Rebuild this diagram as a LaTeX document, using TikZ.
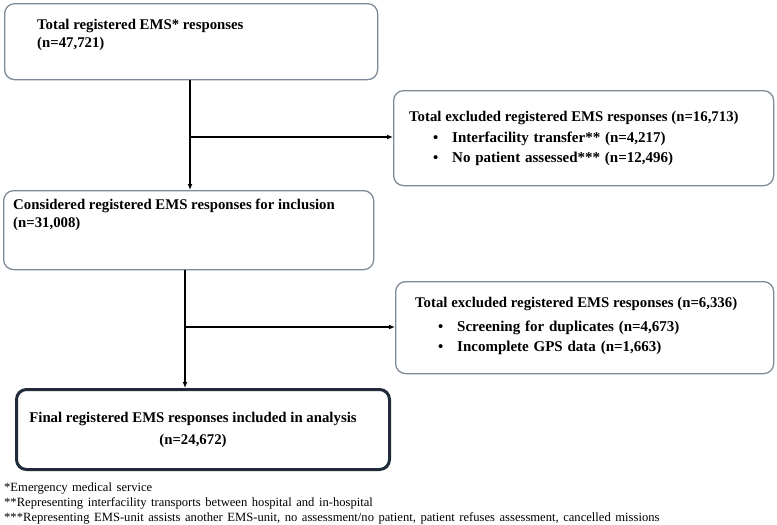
\documentclass[tikz,border=0pt]{standalone}
\usepackage{fontspec}
\setmainfont{Liberation Serif}
\usetikzlibrary{arrows.meta}
\definecolor{boxline}{HTML}{7D8A96}
\definecolor{finalline}{HTML}{1F2B38}
\newcommand\mywidesp{\spaceskip=0.32em plus 0.1em\relax}
\newcommand\mynotesp{\spaceskip=0.36em plus 0.1em\relax}
\begin{document}
\begin{tikzpicture}[x=1pt,y=-1pt,
 box/.style={draw=boxline, line width=1.3pt, rounded corners=10pt, anchor=north west, inner sep=0pt},
 finalbox/.style={draw=finalline, line width=3pt, rounded corners=10pt, anchor=north west, inner sep=0pt},
 txt/.style={font=\fontsize{14.8}{17}\selectfont\bfseries, anchor=base west, inner sep=0pt},
 bul/.style={font=\fontsize{15}{17}\selectfont\bfseries\mywidesp, anchor=base west, inner sep=0pt},
 ctxt/.style={font=\fontsize{14.8}{17}\selectfont\bfseries, anchor=base, inner sep=0pt},
 note/.style={font=\fontsize{12.6}{14}\selectfont\mynotesp, anchor=base west, inner sep=0pt},
 conn/.style={line width=1.3pt, -{Latex[length=6pt,width=5pt]}},
 ]
\useasboundingbox (0,0) rectangle (777,525);
% boxes
\node[box, minimum width=373pt, minimum height=76pt] (b1) at (4,3) {};
\node[box, minimum width=380pt, minimum height=95pt] (b2) at (393,90) {};
\node[box, minimum width=370pt, minimum height=79pt] (b3) at (3,190) {};
\node[box, minimum width=378pt, minimum height=92pt] (b4) at (395,281) {};
\node[finalbox, minimum width=373pt, minimum height=80pt] (b5) at (15,388) {};
% texts
\node[txt] (t1a) at (37,29) {Total registered EMS* responses};
\node[txt] (t1b) at (37,47) {(n=47,721)};
\node[txt] (t2a) at (409,121) {Total excluded registered EMS responses (n=16,713)};
\node[txt] (t2b) at (433,142) {\textbullet};
\node[bul] (t2c) at (452,142) {Interfacility transfer** (n=4,217)};
\node[txt] (t2d) at (433,162) {\textbullet};
\node[bul] (t2e) at (452,162) {No patient assessed*** (n=12,496)};
\node[txt] (t3a) at (13,209) {Considered registered EMS responses for inclusion};
\node[txt] (t3b) at (13,227) {(n=31,008)};
\node[txt] (t4a) at (415,307) {Total excluded registered EMS responses (n=6,336)};
\node[txt] (t4b) at (438,331) {\textbullet};
\node[bul] (t4c) at (457,331) {Screening for duplicates (n=4,673)};
\node[txt] (t4d) at (438,351) {\textbullet};
\node[bul] (t4e) at (457,351) {Incomplete GPS data (n=1,663)};
\node[ctxt] (t5a) at (193,422) {Final registered EMS responses included in analysis};
\node[ctxt] (t5b) at (193,444) {(n=24,672)};
% footnotes
\node[note] (f1) at (4,491) {*Emergency medical service};
\node[note] (f2) at (4,506) {**Representing interfacility transports between hospital and in-hospital};
\node[note] (f3) at (4,521) {***Representing EMS-unit assists another EMS-unit, no assessment/no patient, patient refuses assessment, cancelled missions};
% connectors
\coordinate (j1) at (190,137);
\coordinate (j2) at (185,327);
\draw[conn] (b1.south -| j1) -- (b3.north -| j1);
\draw[conn] (j1) -- (b2.west |- j1);
\draw[conn] (b3.south -| j2) -- (b5.north -| j2);
\draw[conn] (j2) -- (b4.west |- j2);
\end{tikzpicture}
\end{document}
